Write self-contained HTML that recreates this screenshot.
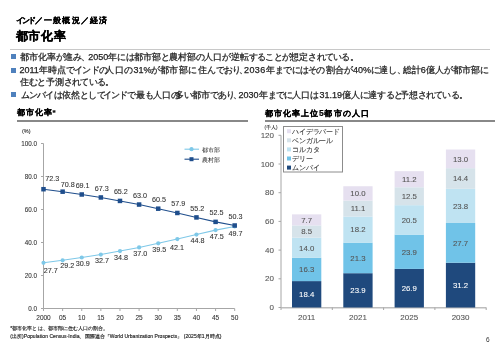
<!DOCTYPE html>
<html><head><meta charset="utf-8">
<style>
*{margin:0;padding:0;box-sizing:border-box}
html,body{width:500px;height:346px;background:#fff;overflow:hidden}
body{will-change:transform}
body{position:relative;font-family:"Liberation Sans", sans-serif;color:#222}
.a{position:absolute;white-space:nowrap}
.sub{left:15.5px;top:16px;font-size:8px;font-weight:bold;line-height:9px;-webkit-text-stroke:0.2px #000;color:#000}
.ttl{left:15.5px;top:29.5px;font-size:12px;font-weight:bold;line-height:13px;color:#000;letter-spacing:0.8px;-webkit-text-stroke:0.3px #000}
.hr{position:absolute;height:1px;background:#c8c8c8}
.bul{position:absolute;left:11px;width:5px;height:5px;background:#4f81bd}
.pn{display:inline-block;width:5px;overflow:visible}
.tx{font-size:9px;line-height:12px;color:#222;-webkit-text-stroke:0.25px #222}
.sec{font-size:8px;font-weight:bold;line-height:10px;letter-spacing:0.8px;-webkit-text-stroke:0.2px #000;color:#000}
.secl{position:absolute;height:1.5px;background:#888}
svg{position:absolute;left:0;top:0}
svg text{font-family:"Liberation Sans", sans-serif;stroke-width:0.08px}
.ax{font-size:6.3px;fill:#333;stroke:#333}
.axx{font-size:6.5px;fill:#333;stroke:#333}
.ax2{font-size:8px;fill:#555;stroke:#555}
.dl{font-size:7.2px;fill:#333;stroke:#333}
.bl{font-size:7.8px}
.sm{font-size:4.5px;fill:#222;stroke:#222}
.lg{font-size:6px;fill:#222}
.lg2{font-size:7px;fill:#333;stroke:#333;letter-spacing:-0.2px}
.fn{left:10.3px;font-size:5px;line-height:6px;color:#222;letter-spacing:0.05px;-webkit-text-stroke:0.15px #222}
</style></head><body>
<div class="a sub" style="letter-spacing:-1.6px">インド</div>
<div class="a sub" style="left:34.8px">／</div>
<div class="a sub" style="left:43.5px;letter-spacing:1.2px">一般</div>
<div class="a sub" style="left:62.3px;letter-spacing:1.4px">概況</div>
<div class="a sub" style="left:80.5px">／</div>
<div class="a sub" style="left:90px;letter-spacing:0.6px">経済</div>
<div class="a ttl">都市化率</div>
<div class="hr" style="left:10px;top:49px;width:479.5px"></div>
<div class="bul" style="top:54px"></div>
<div class="bul" style="top:67.5px"></div>
<div class="bul" style="top:92.4px"></div>
<div class="a tx" style="left:19.5px;top:51px">都市化率<span style="letter-spacing:-0.7px">が</span>進<span style="letter-spacing:-0.7px">み</span><span class="pn">、</span></div>
<div class="a tx" style="left:88.2px;top:51px">2050年<span style="letter-spacing:-0.7px">には</span>都市部<span style="letter-spacing:-0.7px">と</span>農村部<span style="letter-spacing:-0.7px">の</span>人口<span style="letter-spacing:-0.7px">が</span>逆転<span style="letter-spacing:-0.7px">することが</span>想定<span style="letter-spacing:-0.7px">されている</span><span class="pn">。</span></div>
<div class="a tx" style="left:19.4px;top:64px">2011年時点<span style="letter-spacing:-0.7px">でインドの</span></div>
<div class="a tx" style="left:105.2px;top:64px;letter-spacing:0.6px">人口<span style="letter-spacing:-0.7px">の</span></div>
<div class="a tx" style="left:133.4px;top:64px">31%<span style="letter-spacing:-0.7px">が</span></div>
<div class="a tx" style="left:159.5px;top:64px;letter-spacing:0.6px">都市部<span style="letter-spacing:-0.7px">に</span></div>
<div class="a tx" style="left:198.0px;top:64px;letter-spacing:0px">住<span style="letter-spacing:-0.3px">んでお</span></div>
<div class="a tx" style="left:232.3px;top:64px"><span style="letter-spacing:-0.7px">り</span></div>
<div class="a tx" style="left:238.6px;top:64px"><span class="pn">、</span></div>
<div class="a tx" style="left:244.0px;top:64px;letter-spacing:0.4px">2036</div>
<div class="a tx" style="left:266.2px;top:64px">年<span style="letter-spacing:-0.7px">までには</span></div>
<div class="a tx" style="left:308.0px;top:64px"><span style="letter-spacing:-0.7px">その</span></div>
<div class="a tx" style="left:326.3px;top:64px">割合<span style="letter-spacing:-0.7px">が</span></div>
<div class="a tx" style="left:353.0px;top:64px">40%<span style="letter-spacing:-0.7px">に</span>達<span style="letter-spacing:-0.7px">し</span><span class="pn">、</span></div>
<div class="a tx" style="left:402.5px;top:64px;letter-spacing:0.15px">総計6億人<span style="letter-spacing:-0.7px">が</span>都市部<span style="letter-spacing:-0.7px">に</span></div>
<div class="a tx" style="left:20px;top:76px">住<span style="letter-spacing:-0.7px">むと</span>予測<span style="letter-spacing:-0.7px">されている</span><span class="pn">。</span></div>
<div class="a tx" style="left:20.5px;top:89px"><span style="letter-spacing:-0.7px">ムンバイは</span>依然<span style="letter-spacing:-0.7px">として</span></div>
<div class="a tx" style="left:102.5px;top:89px"><span style="letter-spacing:-0.7px">インドで</span>最<span style="letter-spacing:-0.7px">も</span>人口<span style="letter-spacing:-0.7px">の</span></div>
<div class="a tx" style="left:174.5px;top:89px">多<span style="letter-spacing:-0.7px">い</span>都市<span style="letter-spacing:-0.7px">であり</span></div>
<div class="a tx" style="left:232.8px;top:89px"><span class="pn">、</span></div>
<div class="a tx" style="left:238.6px;top:89px">2030年<span style="letter-spacing:-0.7px">までに</span></div>
<div class="a tx" style="left:292.2px;top:89px">人口<span style="letter-spacing:-0.7px">は</span></div>
<div class="a tx" style="left:319.4px;top:89px">31.19億人<span style="letter-spacing:-0.7px">に</span>達<span style="letter-spacing:-0.7px">すると</span></div>
<div class="a tx" style="left:399.5px;top:89px">予想<span style="letter-spacing:-0.7px">されている</span><span class="pn">。</span></div>
<div class="a sec" style="left:17.2px;top:107.5px">都市化率*</div>
<div class="secl" style="left:16.5px;top:120px;width:231px"></div>
<div class="a sec" style="left:264.5px;top:107.5px;letter-spacing:1.1px">都市化率上位<span style="font-size:8.5px;letter-spacing:0.6px">5</span>都市の人口</div>
<div class="secl" style="left:264.5px;top:120px;width:230px"></div>
<svg width="500" height="346" viewBox="0 0 500 346">
<line x1="43.5" y1="143.5" x2="43.5" y2="308.5" stroke="#a6a6a6" stroke-width="1"/>
<line x1="43.5" y1="308.5" x2="234.70000000000002" y2="308.5" stroke="#a6a6a6" stroke-width="1"/>
<line x1="41.0" y1="308.5" x2="43.5" y2="308.5" stroke="#a6a6a6" stroke-width="1"/>
<text x="37.0" y="310.8" text-anchor="end" class="ax">0.0</text>
<line x1="41.0" y1="275.5" x2="43.5" y2="275.5" stroke="#a6a6a6" stroke-width="1"/>
<text x="37.0" y="277.8" text-anchor="end" class="ax">20.0</text>
<line x1="41.0" y1="242.5" x2="43.5" y2="242.5" stroke="#a6a6a6" stroke-width="1"/>
<text x="37.0" y="244.8" text-anchor="end" class="ax">40.0</text>
<line x1="41.0" y1="209.5" x2="43.5" y2="209.5" stroke="#a6a6a6" stroke-width="1"/>
<text x="37.0" y="211.8" text-anchor="end" class="ax">60.0</text>
<line x1="41.0" y1="176.5" x2="43.5" y2="176.5" stroke="#a6a6a6" stroke-width="1"/>
<text x="37.0" y="178.8" text-anchor="end" class="ax">80.0</text>
<line x1="41.0" y1="143.5" x2="43.5" y2="143.5" stroke="#a6a6a6" stroke-width="1"/>
<text x="37.0" y="145.8" text-anchor="end" class="ax">100.0</text>
<line x1="43.5" y1="308.5" x2="43.5" y2="311.0" stroke="#a6a6a6" stroke-width="1"/>
<text x="43.5" y="320.0" text-anchor="middle" class="axx">2000</text>
<line x1="62.620000000000005" y1="308.5" x2="62.620000000000005" y2="311.0" stroke="#a6a6a6" stroke-width="1"/>
<text x="62.620000000000005" y="320.0" text-anchor="middle" class="axx">05</text>
<line x1="81.74000000000001" y1="308.5" x2="81.74000000000001" y2="311.0" stroke="#a6a6a6" stroke-width="1"/>
<text x="81.74000000000001" y="320.0" text-anchor="middle" class="axx">10</text>
<line x1="100.86" y1="308.5" x2="100.86" y2="311.0" stroke="#a6a6a6" stroke-width="1"/>
<text x="100.86" y="320.0" text-anchor="middle" class="axx">15</text>
<line x1="119.98" y1="308.5" x2="119.98" y2="311.0" stroke="#a6a6a6" stroke-width="1"/>
<text x="119.98" y="320.0" text-anchor="middle" class="axx">20</text>
<line x1="139.10000000000002" y1="308.5" x2="139.10000000000002" y2="311.0" stroke="#a6a6a6" stroke-width="1"/>
<text x="139.10000000000002" y="320.0" text-anchor="middle" class="axx">25</text>
<line x1="158.22" y1="308.5" x2="158.22" y2="311.0" stroke="#a6a6a6" stroke-width="1"/>
<text x="158.22" y="320.0" text-anchor="middle" class="axx">30</text>
<line x1="177.34" y1="308.5" x2="177.34" y2="311.0" stroke="#a6a6a6" stroke-width="1"/>
<text x="177.34" y="320.0" text-anchor="middle" class="axx">35</text>
<line x1="196.46" y1="308.5" x2="196.46" y2="311.0" stroke="#a6a6a6" stroke-width="1"/>
<text x="196.46" y="320.0" text-anchor="middle" class="axx">40</text>
<line x1="215.58" y1="308.5" x2="215.58" y2="311.0" stroke="#a6a6a6" stroke-width="1"/>
<text x="215.58" y="320.0" text-anchor="middle" class="axx">45</text>
<line x1="234.70000000000002" y1="308.5" x2="234.70000000000002" y2="311.0" stroke="#a6a6a6" stroke-width="1"/>
<text x="234.70000000000002" y="320.0" text-anchor="middle" class="axx">50</text>
<text x="22" y="132.6" class="sm" style="font-size:5.5px">(%)</text>
<polyline points="43.50,262.80 62.62,260.32 81.74,257.51 100.86,254.55 119.98,251.08 139.10,247.45 158.22,243.32 177.34,239.03 196.46,234.58 215.58,230.12 234.70,226.50" fill="none" stroke="#7ec8e8" stroke-width="1.1"/>
<circle cx="43.50" cy="262.80" r="2.1" fill="#7ec8e8"/>
<circle cx="62.62" cy="260.32" r="2.1" fill="#7ec8e8"/>
<circle cx="81.74" cy="257.51" r="2.1" fill="#7ec8e8"/>
<circle cx="100.86" cy="254.55" r="2.1" fill="#7ec8e8"/>
<circle cx="119.98" cy="251.08" r="2.1" fill="#7ec8e8"/>
<circle cx="139.10" cy="247.45" r="2.1" fill="#7ec8e8"/>
<circle cx="158.22" cy="243.32" r="2.1" fill="#7ec8e8"/>
<circle cx="177.34" cy="239.03" r="2.1" fill="#7ec8e8"/>
<circle cx="196.46" cy="234.58" r="2.1" fill="#7ec8e8"/>
<circle cx="215.58" cy="230.12" r="2.1" fill="#7ec8e8"/>
<circle cx="234.70" cy="226.50" r="2.1" fill="#7ec8e8"/>
<polyline points="43.50,189.21 62.62,191.68 81.74,194.49 100.86,197.46 119.98,200.92 139.10,204.55 158.22,208.68 177.34,212.97 196.46,217.42 215.58,221.88 234.70,225.50" fill="none" stroke="#1f4e8c" stroke-width="1.1"/>
<rect x="41.25" y="186.96" width="4.5" height="4.5" fill="#1f4e8c"/>
<rect x="60.37" y="189.43" width="4.5" height="4.5" fill="#1f4e8c"/>
<rect x="79.49" y="192.24" width="4.5" height="4.5" fill="#1f4e8c"/>
<rect x="98.61" y="195.21" width="4.5" height="4.5" fill="#1f4e8c"/>
<rect x="117.73" y="198.67" width="4.5" height="4.5" fill="#1f4e8c"/>
<rect x="136.85" y="202.30" width="4.5" height="4.5" fill="#1f4e8c"/>
<rect x="155.97" y="206.43" width="4.5" height="4.5" fill="#1f4e8c"/>
<rect x="175.09" y="210.72" width="4.5" height="4.5" fill="#1f4e8c"/>
<rect x="194.21" y="215.17" width="4.5" height="4.5" fill="#1f4e8c"/>
<rect x="213.33" y="219.62" width="4.5" height="4.5" fill="#1f4e8c"/>
<rect x="232.45" y="223.25" width="4.5" height="4.5" fill="#1f4e8c"/>
<text x="52.20" y="180.61" text-anchor="middle" class="dl">72.3</text>
<text x="67.72" y="186.68" text-anchor="middle" class="dl">70.8</text>
<text x="82.64" y="187.79" text-anchor="middle" class="dl">69.1</text>
<text x="101.76" y="190.76" text-anchor="middle" class="dl">67.3</text>
<text x="120.88" y="194.22" text-anchor="middle" class="dl">65.2</text>
<text x="140.00" y="197.85" text-anchor="middle" class="dl">63.0</text>
<text x="159.12" y="201.98" text-anchor="middle" class="dl">60.5</text>
<text x="178.24" y="206.27" text-anchor="middle" class="dl">57.9</text>
<text x="197.36" y="210.72" text-anchor="middle" class="dl">55.2</text>
<text x="216.48" y="215.18" text-anchor="middle" class="dl">52.5</text>
<text x="235.60" y="218.81" text-anchor="middle" class="dl">50.3</text>
<text x="50.80" y="273.00" text-anchor="middle" class="dl">27.7</text>
<text x="67.22" y="268.02" text-anchor="middle" class="dl">29.2</text>
<text x="82.84" y="266.21" text-anchor="middle" class="dl">30.9</text>
<text x="101.96" y="263.25" text-anchor="middle" class="dl">32.7</text>
<text x="121.08" y="259.78" text-anchor="middle" class="dl">34.8</text>
<text x="140.20" y="256.15" text-anchor="middle" class="dl">37.0</text>
<text x="159.32" y="252.03" text-anchor="middle" class="dl">39.5</text>
<text x="176.94" y="249.64" text-anchor="middle" class="dl">42.1</text>
<text x="197.56" y="243.28" text-anchor="middle" class="dl">44.8</text>
<text x="216.68" y="238.83" text-anchor="middle" class="dl">47.5</text>
<text x="235.60" y="235.50" text-anchor="middle" class="dl">49.7</text>
<line x1="184.5" y1="149.2" x2="199" y2="149.2" stroke="#7ec8e8" stroke-width="1.1"/>
<circle cx="191.5" cy="149.2" r="2.1" fill="#7ec8e8"/>
<text x="202.3" y="152" class="lg">都市部</text>
<line x1="184.5" y1="159.2" x2="199" y2="159.2" stroke="#1f4e8c" stroke-width="1.1"/>
<rect x="189.5" y="157.2" width="4" height="4" fill="#1f4e8c"/>
<text x="202.3" y="162.3" class="lg">農村部</text>
<line x1="281.0" y1="135.29999999999998" x2="281.0" y2="307.5" stroke="#a6a6a6" stroke-width="1"/>
<line x1="281.0" y1="307.75" x2="486.2" y2="307.75" stroke="#bdbdbd" stroke-width="1.5"/>
<line x1="278.5" y1="307.5" x2="281.0" y2="307.5" stroke="#a6a6a6" stroke-width="1"/>
<text x="274.0" y="310.0" text-anchor="end" class="ax2">0</text>
<line x1="278.5" y1="278.8" x2="281.0" y2="278.8" stroke="#a6a6a6" stroke-width="1"/>
<text x="274.0" y="281.3" text-anchor="end" class="ax2">20</text>
<line x1="278.5" y1="250.1" x2="281.0" y2="250.1" stroke="#a6a6a6" stroke-width="1"/>
<text x="274.0" y="252.6" text-anchor="end" class="ax2">40</text>
<line x1="278.5" y1="221.39999999999998" x2="281.0" y2="221.39999999999998" stroke="#a6a6a6" stroke-width="1"/>
<text x="274.0" y="223.89999999999998" text-anchor="end" class="ax2">60</text>
<line x1="278.5" y1="192.7" x2="281.0" y2="192.7" stroke="#a6a6a6" stroke-width="1"/>
<text x="274.0" y="195.2" text-anchor="end" class="ax2">80</text>
<line x1="278.5" y1="164.0" x2="281.0" y2="164.0" stroke="#a6a6a6" stroke-width="1"/>
<text x="274.0" y="166.5" text-anchor="end" class="ax2">100</text>
<line x1="278.5" y1="135.29999999999998" x2="281.0" y2="135.29999999999998" stroke="#a6a6a6" stroke-width="1"/>
<text x="274.0" y="137.79999999999998" text-anchor="end" class="ax2">120</text>
<line x1="281.0" y1="307.5" x2="281.0" y2="310.0" stroke="#a6a6a6" stroke-width="1"/>
<line x1="332.3" y1="307.5" x2="332.3" y2="310.0" stroke="#a6a6a6" stroke-width="1"/>
<line x1="383.6" y1="307.5" x2="383.6" y2="310.0" stroke="#a6a6a6" stroke-width="1"/>
<line x1="434.9" y1="307.5" x2="434.9" y2="310.0" stroke="#a6a6a6" stroke-width="1"/>
<line x1="486.2" y1="307.5" x2="486.2" y2="310.0" stroke="#a6a6a6" stroke-width="1"/>
<rect x="292.00" y="281.10" width="29.3" height="26.40" fill="#1f497d"/>
<text x="306.65" y="297.20" text-anchor="middle" class="bl" fill="#ffffff" stroke="#ffffff">18.4</text>
<rect x="292.00" y="257.71" width="29.3" height="23.39" fill="#70c3e8"/>
<text x="306.65" y="272.30" text-anchor="middle" class="bl" fill="#555555" stroke="#555555">16.3</text>
<rect x="292.00" y="237.62" width="29.3" height="20.09" fill="#bfe3f2"/>
<text x="306.65" y="250.56" text-anchor="middle" class="bl" fill="#555555" stroke="#555555">14.0</text>
<rect x="292.00" y="225.42" width="29.3" height="12.20" fill="#d6e3ea"/>
<text x="306.65" y="234.42" text-anchor="middle" class="bl" fill="#555555" stroke="#555555">8.5</text>
<rect x="292.00" y="214.37" width="29.3" height="11.05" fill="#e6e0f0"/>
<text x="306.65" y="222.79" text-anchor="middle" class="bl" fill="#555555" stroke="#555555">7.7</text>
<text x="306.65" y="319.5" text-anchor="middle" class="ax2">2011</text>
<rect x="343.30" y="273.20" width="29.3" height="34.30" fill="#1f497d"/>
<text x="357.95" y="293.25" text-anchor="middle" class="bl" fill="#ffffff" stroke="#ffffff">23.9</text>
<rect x="343.30" y="242.64" width="29.3" height="30.57" fill="#70c3e8"/>
<text x="357.95" y="260.82" text-anchor="middle" class="bl" fill="#555555" stroke="#555555">21.3</text>
<rect x="343.30" y="216.52" width="29.3" height="26.12" fill="#bfe3f2"/>
<text x="357.95" y="232.48" text-anchor="middle" class="bl" fill="#555555" stroke="#555555">18.2</text>
<rect x="343.30" y="200.59" width="29.3" height="15.93" fill="#d6e3ea"/>
<text x="357.95" y="211.46" text-anchor="middle" class="bl" fill="#555555" stroke="#555555">11.1</text>
<rect x="343.30" y="186.24" width="29.3" height="14.35" fill="#e6e0f0"/>
<text x="357.95" y="196.32" text-anchor="middle" class="bl" fill="#555555" stroke="#555555">10.0</text>
<text x="357.95" y="319.5" text-anchor="middle" class="ax2">2021</text>
<rect x="394.60" y="268.90" width="29.3" height="38.60" fill="#1f497d"/>
<text x="409.25" y="291.10" text-anchor="middle" class="bl" fill="#ffffff" stroke="#ffffff">26.9</text>
<rect x="394.60" y="234.60" width="29.3" height="34.30" fill="#70c3e8"/>
<text x="409.25" y="254.65" text-anchor="middle" class="bl" fill="#555555" stroke="#555555">23.9</text>
<rect x="394.60" y="205.18" width="29.3" height="29.42" fill="#bfe3f2"/>
<text x="409.25" y="222.79" text-anchor="middle" class="bl" fill="#555555" stroke="#555555">20.5</text>
<rect x="394.60" y="187.25" width="29.3" height="17.94" fill="#d6e3ea"/>
<text x="409.25" y="199.12" text-anchor="middle" class="bl" fill="#555555" stroke="#555555">12.5</text>
<rect x="394.60" y="171.17" width="29.3" height="16.07" fill="#e6e0f0"/>
<text x="409.25" y="182.11" text-anchor="middle" class="bl" fill="#555555" stroke="#555555">11.2</text>
<text x="409.25" y="319.5" text-anchor="middle" class="ax2">2025</text>
<rect x="445.90" y="262.73" width="29.3" height="44.77" fill="#1f497d"/>
<text x="460.55" y="288.01" text-anchor="middle" class="bl" fill="#ffffff" stroke="#ffffff">31.2</text>
<rect x="445.90" y="222.98" width="29.3" height="39.75" fill="#70c3e8"/>
<text x="460.55" y="245.75" text-anchor="middle" class="bl" fill="#555555" stroke="#555555">27.7</text>
<rect x="445.90" y="188.83" width="29.3" height="34.15" fill="#bfe3f2"/>
<text x="460.55" y="208.80" text-anchor="middle" class="bl" fill="#555555" stroke="#555555">23.8</text>
<rect x="445.90" y="168.16" width="29.3" height="20.66" fill="#d6e3ea"/>
<text x="460.55" y="181.39" text-anchor="middle" class="bl" fill="#555555" stroke="#555555">14.4</text>
<rect x="445.90" y="149.51" width="29.3" height="18.66" fill="#e6e0f0"/>
<text x="460.55" y="161.73" text-anchor="middle" class="bl" fill="#555555" stroke="#555555">13.0</text>
<text x="460.55" y="319.5" text-anchor="middle" class="ax2">2030</text>
<text x="264.5" y="128.7" class="sm">(千人)</text>
<rect x="283.5" y="126.5" width="59" height="45.5" fill="#fff" stroke="#8c8c8c" stroke-width="1"/>
<rect x="287" y="129.20" width="4" height="4" fill="#e6e0f0"/>
<text x="292.3" y="133.60" class="lg2">ハイデラバード</text>
<rect x="287" y="138.30" width="4" height="4" fill="#d6e3ea"/>
<text x="292.3" y="142.70" class="lg2">ベンガルール</text>
<rect x="287" y="147.40" width="4" height="4" fill="#bfe3f2"/>
<text x="292.3" y="151.80" class="lg2">コルカタ</text>
<rect x="287" y="156.50" width="4" height="4" fill="#70c3e8"/>
<text x="292.3" y="160.90" class="lg2">デリー</text>
<rect x="287" y="165.60" width="4" height="4" fill="#1f497d"/>
<text x="292.3" y="170.00" class="lg2">ムンバイ</text>
</svg>
<div class="a fn" style="top:325px">*都市化率とは、都市部に住む人口の割合。</div>
<div class="a fn" style="top:333px">(出所)Population Census-India、国際連合「World Urbanization Prospects」 (2025年1月時点)</div>
<div class="a" style="left:486px;top:335.5px;font-size:6.5px;line-height:7px;color:#333">6</div>
</body></html>
